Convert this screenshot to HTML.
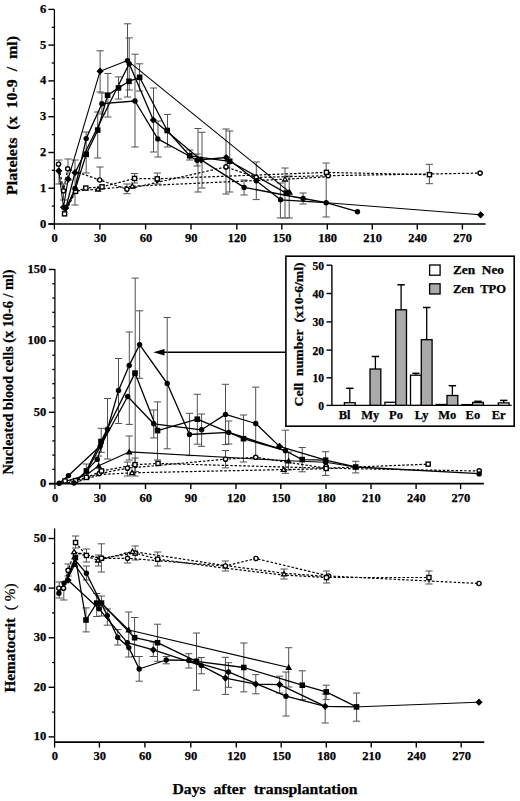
<!DOCTYPE html><html><head><meta charset="utf-8"><style>html,body{margin:0;padding:0;background:#fff;}svg{display:block;}</style></head><body><svg width="520" height="801" viewBox="0 0 520 801" font-family='"Liberation Serif", serif'>
<style>text{stroke:#000;stroke-width:0.25px;paint-order:stroke;}</style>
<rect width="520" height="801" fill="#fff"/>
<line x1="54.4" y1="9.4" x2="54.4" y2="229.5" stroke="#000" stroke-width="1.3" />
<line x1="48.4" y1="224.0" x2="485.6" y2="224.0" stroke="#000" stroke-width="1.6" />
<line x1="48.4" y1="224.0" x2="54.4" y2="224.0" stroke="#000" stroke-width="1.4" />
<line x1="48.4" y1="188.2" x2="54.4" y2="188.2" stroke="#000" stroke-width="1.4" />
<line x1="48.4" y1="152.5" x2="54.4" y2="152.5" stroke="#000" stroke-width="1.4" />
<line x1="48.4" y1="116.7" x2="54.4" y2="116.7" stroke="#000" stroke-width="1.4" />
<line x1="48.4" y1="80.9" x2="54.4" y2="80.9" stroke="#000" stroke-width="1.4" />
<line x1="48.4" y1="45.1" x2="54.4" y2="45.1" stroke="#000" stroke-width="1.4" />
<line x1="48.4" y1="9.4" x2="54.4" y2="9.4" stroke="#000" stroke-width="1.4" />
<line x1="51.8" y1="206.1" x2="54.4" y2="206.1" stroke="#000" stroke-width="1.3" />
<line x1="51.8" y1="170.3" x2="54.4" y2="170.3" stroke="#000" stroke-width="1.3" />
<line x1="51.8" y1="134.6" x2="54.4" y2="134.6" stroke="#000" stroke-width="1.3" />
<line x1="51.8" y1="98.8" x2="54.4" y2="98.8" stroke="#000" stroke-width="1.3" />
<line x1="51.8" y1="63.0" x2="54.4" y2="63.0" stroke="#000" stroke-width="1.3" />
<line x1="51.8" y1="27.3" x2="54.4" y2="27.3" stroke="#000" stroke-width="1.3" />
<text x="46.3" y="227.5" font-size="12.5" text-anchor="end" font-weight="bold" >0</text>
<text x="46.3" y="191.7" font-size="12.5" text-anchor="end" font-weight="bold" >1</text>
<text x="46.3" y="156.0" font-size="12.5" text-anchor="end" font-weight="bold" >2</text>
<text x="46.3" y="120.2" font-size="12.5" text-anchor="end" font-weight="bold" >3</text>
<text x="46.3" y="84.4" font-size="12.5" text-anchor="end" font-weight="bold" >4</text>
<text x="46.3" y="48.6" font-size="12.5" text-anchor="end" font-weight="bold" >5</text>
<text x="46.3" y="12.9" font-size="12.5" text-anchor="end" font-weight="bold" >6</text>
<text x="54.6" y="242.2" font-size="12.5" text-anchor="middle" font-weight="bold" >0</text>
<line x1="99.9" y1="224.0" x2="99.9" y2="229.5" stroke="#000" stroke-width="1.4" />
<text x="100.2" y="242.2" font-size="12.5" text-anchor="middle" font-weight="bold" >30</text>
<line x1="145.6" y1="224.0" x2="145.6" y2="229.5" stroke="#000" stroke-width="1.4" />
<text x="145.9" y="242.2" font-size="12.5" text-anchor="middle" font-weight="bold" >60</text>
<line x1="191.0" y1="224.0" x2="191.0" y2="229.5" stroke="#000" stroke-width="1.4" />
<text x="191.3" y="242.2" font-size="12.5" text-anchor="middle" font-weight="bold" >90</text>
<line x1="236.8" y1="224.0" x2="236.8" y2="229.5" stroke="#000" stroke-width="1.4" />
<text x="237.1" y="242.2" font-size="12.5" text-anchor="middle" font-weight="bold" >120</text>
<line x1="281.8" y1="224.0" x2="281.8" y2="229.5" stroke="#000" stroke-width="1.4" />
<text x="282.1" y="242.2" font-size="12.5" text-anchor="middle" font-weight="bold" >150</text>
<line x1="327.3" y1="224.0" x2="327.3" y2="229.5" stroke="#000" stroke-width="1.4" />
<text x="327.6" y="242.2" font-size="12.5" text-anchor="middle" font-weight="bold" >180</text>
<line x1="372.3" y1="224.0" x2="372.3" y2="229.5" stroke="#000" stroke-width="1.4" />
<text x="372.6" y="242.2" font-size="12.5" text-anchor="middle" font-weight="bold" >210</text>
<line x1="417.3" y1="224.0" x2="417.3" y2="229.5" stroke="#000" stroke-width="1.4" />
<text x="417.6" y="242.2" font-size="12.5" text-anchor="middle" font-weight="bold" >240</text>
<line x1="462.4" y1="224.0" x2="462.4" y2="229.5" stroke="#000" stroke-width="1.4" />
<text x="462.7" y="242.2" font-size="12.5" text-anchor="middle" font-weight="bold" >270</text>
<line x1="54.9" y1="269.0" x2="54.9" y2="489.1" stroke="#000" stroke-width="1.3" />
<line x1="48.9" y1="483.6" x2="483.9" y2="483.6" stroke="#000" stroke-width="1.6" />
<line x1="48.9" y1="483.7" x2="54.9" y2="483.7" stroke="#000" stroke-width="1.4" />
<line x1="48.9" y1="412.3" x2="54.9" y2="412.3" stroke="#000" stroke-width="1.4" />
<line x1="48.9" y1="340.9" x2="54.9" y2="340.9" stroke="#000" stroke-width="1.4" />
<line x1="48.9" y1="269.5" x2="54.9" y2="269.5" stroke="#000" stroke-width="1.4" />
<line x1="52.3" y1="469.4" x2="54.9" y2="469.4" stroke="#000" stroke-width="1.3" />
<line x1="52.3" y1="455.1" x2="54.9" y2="455.1" stroke="#000" stroke-width="1.3" />
<line x1="52.3" y1="440.9" x2="54.9" y2="440.9" stroke="#000" stroke-width="1.3" />
<line x1="52.3" y1="426.6" x2="54.9" y2="426.6" stroke="#000" stroke-width="1.3" />
<line x1="52.3" y1="398.0" x2="54.9" y2="398.0" stroke="#000" stroke-width="1.3" />
<line x1="52.3" y1="383.7" x2="54.9" y2="383.7" stroke="#000" stroke-width="1.3" />
<line x1="52.3" y1="369.5" x2="54.9" y2="369.5" stroke="#000" stroke-width="1.3" />
<line x1="52.3" y1="355.2" x2="54.9" y2="355.2" stroke="#000" stroke-width="1.3" />
<line x1="52.3" y1="326.6" x2="54.9" y2="326.6" stroke="#000" stroke-width="1.3" />
<line x1="52.3" y1="312.3" x2="54.9" y2="312.3" stroke="#000" stroke-width="1.3" />
<line x1="52.3" y1="298.1" x2="54.9" y2="298.1" stroke="#000" stroke-width="1.3" />
<line x1="52.3" y1="283.8" x2="54.9" y2="283.8" stroke="#000" stroke-width="1.3" />
<text x="46.3" y="487.2" font-size="12.5" text-anchor="end" font-weight="bold" >0</text>
<text x="46.3" y="415.8" font-size="12.5" text-anchor="end" font-weight="bold" >50</text>
<text x="46.3" y="344.4" font-size="12.5" text-anchor="end" font-weight="bold" >100</text>
<text x="46.3" y="273.0" font-size="12.5" text-anchor="end" font-weight="bold" >150</text>
<text x="55.2" y="501.5" font-size="12.5" text-anchor="middle" font-weight="bold" >0</text>
<line x1="99.8" y1="483.6" x2="99.8" y2="489.1" stroke="#000" stroke-width="1.4" />
<text x="100.1" y="501.5" font-size="12.5" text-anchor="middle" font-weight="bold" >30</text>
<line x1="145.5" y1="483.6" x2="145.5" y2="489.1" stroke="#000" stroke-width="1.4" />
<text x="145.8" y="501.5" font-size="12.5" text-anchor="middle" font-weight="bold" >60</text>
<line x1="190.8" y1="483.6" x2="190.8" y2="489.1" stroke="#000" stroke-width="1.4" />
<text x="191.1" y="501.5" font-size="12.5" text-anchor="middle" font-weight="bold" >90</text>
<line x1="236.0" y1="483.6" x2="236.0" y2="489.1" stroke="#000" stroke-width="1.4" />
<text x="236.3" y="501.5" font-size="12.5" text-anchor="middle" font-weight="bold" >120</text>
<line x1="280.8" y1="483.6" x2="280.8" y2="489.1" stroke="#000" stroke-width="1.4" />
<text x="281.1" y="501.5" font-size="12.5" text-anchor="middle" font-weight="bold" >150</text>
<line x1="326.0" y1="483.6" x2="326.0" y2="489.1" stroke="#000" stroke-width="1.4" />
<text x="326.3" y="501.5" font-size="12.5" text-anchor="middle" font-weight="bold" >180</text>
<line x1="371.0" y1="483.6" x2="371.0" y2="489.1" stroke="#000" stroke-width="1.4" />
<text x="371.3" y="501.5" font-size="12.5" text-anchor="middle" font-weight="bold" >210</text>
<line x1="416.1" y1="483.6" x2="416.1" y2="489.1" stroke="#000" stroke-width="1.4" />
<text x="416.4" y="501.5" font-size="12.5" text-anchor="middle" font-weight="bold" >240</text>
<line x1="460.6" y1="483.6" x2="460.6" y2="489.1" stroke="#000" stroke-width="1.4" />
<text x="460.9" y="501.5" font-size="12.5" text-anchor="middle" font-weight="bold" >270</text>
<line x1="54.6" y1="528.4" x2="54.6" y2="747.6" stroke="#000" stroke-width="1.3" />
<line x1="54.6" y1="742.1" x2="484.2" y2="742.1" stroke="#000" stroke-width="1.6" />
<line x1="48.6" y1="736.9" x2="54.6" y2="736.9" stroke="#000" stroke-width="1.4" />
<line x1="48.6" y1="687.3" x2="54.6" y2="687.3" stroke="#000" stroke-width="1.4" />
<line x1="48.6" y1="637.7" x2="54.6" y2="637.7" stroke="#000" stroke-width="1.4" />
<line x1="48.6" y1="588.1" x2="54.6" y2="588.1" stroke="#000" stroke-width="1.4" />
<line x1="48.6" y1="538.5" x2="54.6" y2="538.5" stroke="#000" stroke-width="1.4" />
<line x1="52.0" y1="712.1" x2="54.6" y2="712.1" stroke="#000" stroke-width="1.3" />
<line x1="52.0" y1="662.5" x2="54.6" y2="662.5" stroke="#000" stroke-width="1.3" />
<line x1="52.0" y1="612.9" x2="54.6" y2="612.9" stroke="#000" stroke-width="1.3" />
<line x1="52.0" y1="563.3" x2="54.6" y2="563.3" stroke="#000" stroke-width="1.3" />
<text x="46.3" y="740.4" font-size="12.5" text-anchor="end" font-weight="bold" >10</text>
<text x="46.3" y="690.8" font-size="12.5" text-anchor="end" font-weight="bold" >20</text>
<text x="46.3" y="641.2" font-size="12.5" text-anchor="end" font-weight="bold" >30</text>
<text x="46.3" y="591.6" font-size="12.5" text-anchor="end" font-weight="bold" >40</text>
<text x="46.3" y="542.0" font-size="12.5" text-anchor="end" font-weight="bold" >50</text>
<text x="54.9" y="760.3" font-size="12.5" text-anchor="middle" font-weight="bold" >0</text>
<line x1="99.4" y1="742.1" x2="99.4" y2="747.6" stroke="#000" stroke-width="1.4" />
<text x="99.7" y="760.3" font-size="12.5" text-anchor="middle" font-weight="bold" >30</text>
<line x1="144.9" y1="742.1" x2="144.9" y2="747.6" stroke="#000" stroke-width="1.4" />
<text x="145.2" y="760.3" font-size="12.5" text-anchor="middle" font-weight="bold" >60</text>
<line x1="190.8" y1="742.1" x2="190.8" y2="747.6" stroke="#000" stroke-width="1.4" />
<text x="191.1" y="760.3" font-size="12.5" text-anchor="middle" font-weight="bold" >90</text>
<line x1="236.3" y1="742.1" x2="236.3" y2="747.6" stroke="#000" stroke-width="1.4" />
<text x="236.6" y="760.3" font-size="12.5" text-anchor="middle" font-weight="bold" >120</text>
<line x1="281.2" y1="742.1" x2="281.2" y2="747.6" stroke="#000" stroke-width="1.4" />
<text x="281.5" y="760.3" font-size="12.5" text-anchor="middle" font-weight="bold" >150</text>
<line x1="326.3" y1="742.1" x2="326.3" y2="747.6" stroke="#000" stroke-width="1.4" />
<text x="326.6" y="760.3" font-size="12.5" text-anchor="middle" font-weight="bold" >180</text>
<line x1="371.2" y1="742.1" x2="371.2" y2="747.6" stroke="#000" stroke-width="1.4" />
<text x="371.5" y="760.3" font-size="12.5" text-anchor="middle" font-weight="bold" >210</text>
<line x1="416.3" y1="742.1" x2="416.3" y2="747.6" stroke="#000" stroke-width="1.4" />
<text x="416.6" y="760.3" font-size="12.5" text-anchor="middle" font-weight="bold" >240</text>
<line x1="461.2" y1="742.1" x2="461.2" y2="747.6" stroke="#000" stroke-width="1.4" />
<text x="461.5" y="760.3" font-size="12.5" text-anchor="middle" font-weight="bold" >270</text>
<text transform="translate(17.0,195.0) rotate(-90)" x="0" y="0" font-size="15" font-weight="bold" textLength="159.0" lengthAdjust="spacingAndGlyphs">Platelets&#160;&#160;(x&#160;&#160;10-9&#160;&#160;/&#160;&#160;ml)</text>
<text transform="translate(13.1,474.5) rotate(-90)" x="0" y="0" font-size="15" font-weight="bold" textLength="205.0" lengthAdjust="spacingAndGlyphs">Nucleated blood cells (x 10-6 / ml)</text>
<text transform="translate(15.0,692.6) rotate(-90)" x="0" y="0" font-size="14.5" font-weight="bold" textLength="109.1" lengthAdjust="spacingAndGlyphs">Hematocrit&#160;&#160;<tspan font-weight="normal">(&#160;%)</tspan></text>
<text x="172.5" y="793.7" font-size="15" font-weight="bold" textLength="185" lengthAdjust="spacingAndGlyphs">Days&#160;&#160;after&#160;&#160;transplantation</text>
<rect x="285.9" y="256.2" width="228.3" height="170.0" fill="#fff" stroke="#000" stroke-width="1.6"/>
<line x1="331.9" y1="265.0" x2="331.9" y2="405.3" stroke="#000" stroke-width="1.4" />
<line x1="331.9" y1="405.4" x2="511.7" y2="405.4" stroke="#000" stroke-width="1.4" />
<line x1="326.5" y1="405.4" x2="331.9" y2="405.4" stroke="#000" stroke-width="1.4" />
<text x="324.0" y="409.9" font-size="11.6" text-anchor="end" font-weight="bold" >0</text>
<line x1="326.5" y1="377.8" x2="331.9" y2="377.8" stroke="#000" stroke-width="1.4" />
<text x="324.0" y="382.3" font-size="11.6" text-anchor="end" font-weight="bold" >10</text>
<line x1="326.5" y1="350.1" x2="331.9" y2="350.1" stroke="#000" stroke-width="1.4" />
<text x="324.0" y="354.6" font-size="11.6" text-anchor="end" font-weight="bold" >20</text>
<line x1="326.5" y1="321.9" x2="331.9" y2="321.9" stroke="#000" stroke-width="1.4" />
<text x="324.0" y="326.4" font-size="11.6" text-anchor="end" font-weight="bold" >30</text>
<line x1="326.5" y1="293.5" x2="331.9" y2="293.5" stroke="#000" stroke-width="1.4" />
<text x="324.0" y="298.0" font-size="11.6" text-anchor="end" font-weight="bold" >40</text>
<line x1="326.5" y1="265.2" x2="331.9" y2="265.2" stroke="#000" stroke-width="1.4" />
<text x="324.0" y="269.7" font-size="11.6" text-anchor="end" font-weight="bold" >50</text>
<text transform="translate(303.2,406.5) rotate(-90)" x="0" y="0" font-size="13" font-weight="bold" textLength="144.2" lengthAdjust="spacingAndGlyphs">Cell&#160;&#160;number&#160;&#160;(x10-6/ml)</text>
<line x1="349.8" y1="388.3" x2="349.8" y2="402.7" stroke="#000" stroke-width="1.3" />
<line x1="346.1" y1="388.3" x2="353.5" y2="388.3" stroke="#000" stroke-width="1.5" />
<rect x="344.4" y="402.7" width="10.8" height="2.6" fill="#fff" stroke="#000" stroke-width="1.3"/>
<text x="344.7" y="418.9" font-size="12.5" text-anchor="middle" font-weight="bold" >Bl</text>
<line x1="375.4" y1="356.5" x2="375.4" y2="369.0" stroke="#000" stroke-width="1.3" />
<line x1="371.7" y1="356.5" x2="379.1" y2="356.5" stroke="#000" stroke-width="1.5" />
<rect x="370.0" y="369.0" width="10.8" height="36.3" fill="#aaaaaa" stroke="#000" stroke-width="1.3"/>
<text x="370.3" y="418.9" font-size="12.5" text-anchor="middle" font-weight="bold" >My</text>
<line x1="401.1" y1="284.8" x2="401.1" y2="309.8" stroke="#000" stroke-width="1.3" />
<line x1="397.4" y1="284.8" x2="404.8" y2="284.8" stroke="#000" stroke-width="1.5" />
<rect x="384.9" y="402.3" width="10.8" height="3.0" fill="#fff" stroke="#000" stroke-width="1.3"/>
<rect x="395.7" y="309.8" width="10.8" height="95.5" fill="#aaaaaa" stroke="#000" stroke-width="1.3"/>
<text x="396.0" y="418.9" font-size="12.5" text-anchor="middle" font-weight="bold" >Po</text>
<line x1="415.9" y1="373.3" x2="415.9" y2="375.2" stroke="#000" stroke-width="1.3" />
<line x1="412.4" y1="373.3" x2="419.4" y2="373.3" stroke="#000" stroke-width="1.5" />
<line x1="426.7" y1="307.5" x2="426.7" y2="339.7" stroke="#000" stroke-width="1.3" />
<line x1="423.0" y1="307.5" x2="430.4" y2="307.5" stroke="#000" stroke-width="1.5" />
<rect x="410.5" y="375.2" width="10.8" height="30.1" fill="#fff" stroke="#000" stroke-width="1.3"/>
<rect x="421.3" y="339.7" width="10.8" height="65.6" fill="#aaaaaa" stroke="#000" stroke-width="1.3"/>
<text x="421.6" y="418.9" font-size="12.5" text-anchor="middle" font-weight="bold" >Ly</text>
<line x1="452.4" y1="385.7" x2="452.4" y2="395.5" stroke="#000" stroke-width="1.3" />
<line x1="448.7" y1="385.7" x2="456.1" y2="385.7" stroke="#000" stroke-width="1.5" />
<rect x="436.2" y="404.5" width="10.8" height="0.8" fill="#fff" stroke="#000" stroke-width="1.3"/>
<rect x="447.0" y="395.5" width="10.8" height="9.8" fill="#aaaaaa" stroke="#000" stroke-width="1.3"/>
<text x="447.3" y="418.9" font-size="12.5" text-anchor="middle" font-weight="bold" >Mo</text>
<line x1="478.0" y1="401.3" x2="478.0" y2="402.4" stroke="#000" stroke-width="1.3" />
<line x1="474.3" y1="401.3" x2="481.7" y2="401.3" stroke="#000" stroke-width="1.5" />
<rect x="461.8" y="404.6" width="10.8" height="0.7" fill="#fff" stroke="#000" stroke-width="1.3"/>
<rect x="472.6" y="402.4" width="10.8" height="2.9" fill="#aaaaaa" stroke="#000" stroke-width="1.3"/>
<text x="472.9" y="418.9" font-size="12.5" text-anchor="middle" font-weight="bold" >Eo</text>
<line x1="503.7" y1="400.4" x2="503.7" y2="402.9" stroke="#000" stroke-width="1.3" />
<line x1="500.0" y1="400.4" x2="507.4" y2="400.4" stroke="#000" stroke-width="1.5" />
<rect x="498.3" y="402.9" width="10.8" height="2.4" fill="#fff" stroke="#000" stroke-width="1.3"/>
<text x="498.6" y="418.9" font-size="12.5" text-anchor="middle" font-weight="bold" >Er</text>
<rect x="429.6" y="265.0" width="10.5" height="10.2" fill="#fff" stroke="#000" stroke-width="1.3"/>
<rect x="429.6" y="283.8" width="10.5" height="10.2" fill="#aaaaaa" stroke="#000" stroke-width="1.3"/>
<text x="453" y="273.8" font-size="12.5" font-weight="bold" textLength="51" lengthAdjust="spacingAndGlyphs">Zen&#160;&#160;Neo</text>
<text x="453" y="292.6" font-size="12.5" font-weight="bold" textLength="53" lengthAdjust="spacingAndGlyphs">Zen&#160;&#160;TPO</text>
<line x1="164.0" y1="352.3" x2="285.9" y2="352.3" stroke="#000" stroke-width="1.5" />
<polygon points="153.3,352.3 164.5,349.0 164.5,355.6" fill="#000"/>
<line x1="127.5" y1="23.8" x2="127.5" y2="97.0" stroke="#505050" stroke-width="1.0"/>
<line x1="123.9" y1="23.8" x2="131.1" y2="23.8" stroke="#505050" stroke-width="1.0"/>
<line x1="123.9" y1="97.0" x2="131.1" y2="97.0" stroke="#505050" stroke-width="1.0"/>
<line x1="129.2" y1="37.9" x2="129.2" y2="90.0" stroke="#505050" stroke-width="1.0"/>
<line x1="125.6" y1="37.9" x2="132.8" y2="37.9" stroke="#505050" stroke-width="1.0"/>
<line x1="125.6" y1="90.0" x2="132.8" y2="90.0" stroke="#505050" stroke-width="1.0"/>
<line x1="100.1" y1="50.8" x2="100.1" y2="92.0" stroke="#505050" stroke-width="1.0"/>
<line x1="96.5" y1="50.8" x2="103.7" y2="50.8" stroke="#505050" stroke-width="1.0"/>
<line x1="96.5" y1="92.0" x2="103.7" y2="92.0" stroke="#505050" stroke-width="1.0"/>
<line x1="135.0" y1="54.2" x2="135.0" y2="147.0" stroke="#505050" stroke-width="1.0"/>
<line x1="131.4" y1="54.2" x2="138.6" y2="54.2" stroke="#505050" stroke-width="1.0"/>
<line x1="131.4" y1="147.0" x2="138.6" y2="147.0" stroke="#505050" stroke-width="1.0"/>
<line x1="139.6" y1="63.8" x2="139.6" y2="91.0" stroke="#505050" stroke-width="1.0"/>
<line x1="136.0" y1="63.8" x2="143.2" y2="63.8" stroke="#505050" stroke-width="1.0"/>
<line x1="136.0" y1="91.0" x2="143.2" y2="91.0" stroke="#505050" stroke-width="1.0"/>
<line x1="107.9" y1="73.5" x2="107.9" y2="117.0" stroke="#505050" stroke-width="1.0"/>
<line x1="104.3" y1="73.5" x2="111.5" y2="73.5" stroke="#505050" stroke-width="1.0"/>
<line x1="104.3" y1="117.0" x2="111.5" y2="117.0" stroke="#505050" stroke-width="1.0"/>
<line x1="118.5" y1="76.9" x2="118.5" y2="99.0" stroke="#505050" stroke-width="1.0"/>
<line x1="114.9" y1="76.9" x2="122.1" y2="76.9" stroke="#505050" stroke-width="1.0"/>
<line x1="114.9" y1="99.0" x2="122.1" y2="99.0" stroke="#505050" stroke-width="1.0"/>
<line x1="153.5" y1="88.0" x2="153.5" y2="152.0" stroke="#505050" stroke-width="1.0"/>
<line x1="149.9" y1="88.0" x2="157.1" y2="88.0" stroke="#505050" stroke-width="1.0"/>
<line x1="149.9" y1="152.0" x2="157.1" y2="152.0" stroke="#505050" stroke-width="1.0"/>
<line x1="158.0" y1="121.0" x2="158.0" y2="157.0" stroke="#505050" stroke-width="1.0"/>
<line x1="154.4" y1="121.0" x2="161.6" y2="121.0" stroke="#505050" stroke-width="1.0"/>
<line x1="154.4" y1="157.0" x2="161.6" y2="157.0" stroke="#505050" stroke-width="1.0"/>
<line x1="167.5" y1="114.4" x2="167.5" y2="147.0" stroke="#505050" stroke-width="1.0"/>
<line x1="163.9" y1="114.4" x2="171.1" y2="114.4" stroke="#505050" stroke-width="1.0"/>
<line x1="163.9" y1="147.0" x2="171.1" y2="147.0" stroke="#505050" stroke-width="1.0"/>
<line x1="198.0" y1="128.5" x2="198.0" y2="192.0" stroke="#505050" stroke-width="1.0"/>
<line x1="194.4" y1="128.5" x2="201.6" y2="128.5" stroke="#505050" stroke-width="1.0"/>
<line x1="194.4" y1="192.0" x2="201.6" y2="192.0" stroke="#505050" stroke-width="1.0"/>
<line x1="202.0" y1="132.3" x2="202.0" y2="188.0" stroke="#505050" stroke-width="1.0"/>
<line x1="198.4" y1="132.3" x2="205.6" y2="132.3" stroke="#505050" stroke-width="1.0"/>
<line x1="198.4" y1="188.0" x2="205.6" y2="188.0" stroke="#505050" stroke-width="1.0"/>
<line x1="226.0" y1="129.0" x2="226.0" y2="194.0" stroke="#505050" stroke-width="1.0"/>
<line x1="222.4" y1="129.0" x2="229.6" y2="129.0" stroke="#505050" stroke-width="1.0"/>
<line x1="222.4" y1="194.0" x2="229.6" y2="194.0" stroke="#505050" stroke-width="1.0"/>
<line x1="229.7" y1="131.0" x2="229.7" y2="192.0" stroke="#505050" stroke-width="1.0"/>
<line x1="226.1" y1="131.0" x2="233.3" y2="131.0" stroke="#505050" stroke-width="1.0"/>
<line x1="226.1" y1="192.0" x2="233.3" y2="192.0" stroke="#505050" stroke-width="1.0"/>
<line x1="256.3" y1="162.0" x2="256.3" y2="199.6" stroke="#505050" stroke-width="1.0"/>
<line x1="252.7" y1="162.0" x2="259.9" y2="162.0" stroke="#505050" stroke-width="1.0"/>
<line x1="252.7" y1="199.6" x2="259.9" y2="199.6" stroke="#505050" stroke-width="1.0"/>
<line x1="285.0" y1="168.0" x2="285.0" y2="218.0" stroke="#505050" stroke-width="1.0"/>
<line x1="281.4" y1="168.0" x2="288.6" y2="168.0" stroke="#505050" stroke-width="1.0"/>
<line x1="281.4" y1="218.0" x2="288.6" y2="218.0" stroke="#505050" stroke-width="1.0"/>
<line x1="289.2" y1="176.0" x2="289.2" y2="218.0" stroke="#505050" stroke-width="1.0"/>
<line x1="285.6" y1="176.0" x2="292.8" y2="176.0" stroke="#505050" stroke-width="1.0"/>
<line x1="285.6" y1="218.0" x2="292.8" y2="218.0" stroke="#505050" stroke-width="1.0"/>
<line x1="280.4" y1="183.0" x2="280.4" y2="218.0" stroke="#505050" stroke-width="1.0"/>
<line x1="276.8" y1="183.0" x2="284.0" y2="183.0" stroke="#505050" stroke-width="1.0"/>
<line x1="276.8" y1="218.0" x2="284.0" y2="218.0" stroke="#505050" stroke-width="1.0"/>
<line x1="303.1" y1="193.0" x2="303.1" y2="204.0" stroke="#505050" stroke-width="1.0"/>
<line x1="299.5" y1="193.0" x2="306.7" y2="193.0" stroke="#505050" stroke-width="1.0"/>
<line x1="299.5" y1="204.0" x2="306.7" y2="204.0" stroke="#505050" stroke-width="1.0"/>
<line x1="326.2" y1="163.0" x2="326.2" y2="217.0" stroke="#505050" stroke-width="1.0"/>
<line x1="322.6" y1="163.0" x2="329.8" y2="163.0" stroke="#505050" stroke-width="1.0"/>
<line x1="322.6" y1="217.0" x2="329.8" y2="217.0" stroke="#505050" stroke-width="1.0"/>
<line x1="97.7" y1="112.0" x2="97.7" y2="158.0" stroke="#505050" stroke-width="1.0"/>
<line x1="94.1" y1="112.0" x2="101.3" y2="112.0" stroke="#505050" stroke-width="1.0"/>
<line x1="94.1" y1="158.0" x2="101.3" y2="158.0" stroke="#505050" stroke-width="1.0"/>
<line x1="86.2" y1="132.0" x2="86.2" y2="173.0" stroke="#505050" stroke-width="1.0"/>
<line x1="82.6" y1="132.0" x2="89.8" y2="132.0" stroke="#505050" stroke-width="1.0"/>
<line x1="82.6" y1="173.0" x2="89.8" y2="173.0" stroke="#505050" stroke-width="1.0"/>
<line x1="101.9" y1="93.0" x2="101.9" y2="114.0" stroke="#505050" stroke-width="1.0"/>
<line x1="98.3" y1="93.0" x2="105.5" y2="93.0" stroke="#505050" stroke-width="1.0"/>
<line x1="98.3" y1="114.0" x2="105.5" y2="114.0" stroke="#505050" stroke-width="1.0"/>
<line x1="75.0" y1="160.0" x2="75.0" y2="205.0" stroke="#505050" stroke-width="1.0"/>
<line x1="71.4" y1="160.0" x2="78.6" y2="160.0" stroke="#505050" stroke-width="1.0"/>
<line x1="71.4" y1="205.0" x2="78.6" y2="205.0" stroke="#505050" stroke-width="1.0"/>
<line x1="68.0" y1="159.0" x2="68.0" y2="180.0" stroke="#505050" stroke-width="1.0"/>
<line x1="64.4" y1="159.0" x2="71.6" y2="159.0" stroke="#505050" stroke-width="1.0"/>
<line x1="64.4" y1="180.0" x2="71.6" y2="180.0" stroke="#505050" stroke-width="1.0"/>
<line x1="100.0" y1="167.0" x2="100.0" y2="180.0" stroke="#505050" stroke-width="1.0"/>
<line x1="96.4" y1="167.0" x2="103.6" y2="167.0" stroke="#505050" stroke-width="1.0"/>
<line x1="96.4" y1="180.0" x2="103.6" y2="180.0" stroke="#505050" stroke-width="1.0"/>
<line x1="134.6" y1="173.5" x2="134.6" y2="183.0" stroke="#505050" stroke-width="1.0"/>
<line x1="131.0" y1="173.5" x2="138.2" y2="173.5" stroke="#505050" stroke-width="1.0"/>
<line x1="131.0" y1="183.0" x2="138.2" y2="183.0" stroke="#505050" stroke-width="1.0"/>
<line x1="126.9" y1="184.0" x2="126.9" y2="193.7" stroke="#505050" stroke-width="1.0"/>
<line x1="123.3" y1="184.0" x2="130.5" y2="184.0" stroke="#505050" stroke-width="1.0"/>
<line x1="123.3" y1="193.7" x2="130.5" y2="193.7" stroke="#505050" stroke-width="1.0"/>
<line x1="157.3" y1="173.0" x2="157.3" y2="184.0" stroke="#505050" stroke-width="1.0"/>
<line x1="153.7" y1="173.0" x2="160.9" y2="173.0" stroke="#505050" stroke-width="1.0"/>
<line x1="153.7" y1="184.0" x2="160.9" y2="184.0" stroke="#505050" stroke-width="1.0"/>
<line x1="429.4" y1="164.3" x2="429.4" y2="183.7" stroke="#505050" stroke-width="1.0"/>
<line x1="425.8" y1="164.3" x2="433.0" y2="164.3" stroke="#505050" stroke-width="1.0"/>
<line x1="425.8" y1="183.7" x2="433.0" y2="183.7" stroke="#505050" stroke-width="1.0"/>
<line x1="59.0" y1="160.0" x2="59.0" y2="184.0" stroke="#505050" stroke-width="1.0"/>
<line x1="55.4" y1="160.0" x2="62.6" y2="160.0" stroke="#505050" stroke-width="1.0"/>
<line x1="55.4" y1="184.0" x2="62.6" y2="184.0" stroke="#505050" stroke-width="1.0"/>
<line x1="63.5" y1="184.0" x2="63.5" y2="200.0" stroke="#505050" stroke-width="1.0"/>
<line x1="59.9" y1="184.0" x2="67.1" y2="184.0" stroke="#505050" stroke-width="1.0"/>
<line x1="59.9" y1="200.0" x2="67.1" y2="200.0" stroke="#505050" stroke-width="1.0"/>
<line x1="244.1" y1="180.0" x2="244.1" y2="195.0" stroke="#505050" stroke-width="1.0"/>
<line x1="240.5" y1="180.0" x2="247.7" y2="180.0" stroke="#505050" stroke-width="1.0"/>
<line x1="240.5" y1="195.0" x2="247.7" y2="195.0" stroke="#505050" stroke-width="1.0"/>
<line x1="189.7" y1="150.0" x2="189.7" y2="160.0" stroke="#505050" stroke-width="1.0"/>
<line x1="186.1" y1="150.0" x2="193.3" y2="150.0" stroke="#505050" stroke-width="1.0"/>
<line x1="186.1" y1="160.0" x2="193.3" y2="160.0" stroke="#505050" stroke-width="1.0"/>
<line x1="197.0" y1="154.0" x2="197.0" y2="166.0" stroke="#505050" stroke-width="1.0"/>
<line x1="193.4" y1="154.0" x2="200.6" y2="154.0" stroke="#505050" stroke-width="1.0"/>
<line x1="193.4" y1="166.0" x2="200.6" y2="166.0" stroke="#505050" stroke-width="1.0"/>
<polyline points="58.5,164.2 63.5,190.8 67.7,168.8 99.7,180.0 126.9,189.2 226.0,166.9 256.2,177.4 328.2,175.7 480.1,173.1" fill="none" stroke="#000" stroke-width="1.2" stroke-linejoin="round" stroke-dasharray="2.5,1.8"/>
<polyline points="64.6,213.8 75.6,191.4 85.8,188.1 102.0,186.9 134.6,178.5 157.3,178.8 326.5,172.4 429.5,174.7" fill="none" stroke="#000" stroke-width="1.2" stroke-linejoin="round" stroke-dasharray="2.5,1.8"/>
<polyline points="65.0,212.0 75.0,191.0 98.0,189.2 132.3,186.2 285.0,179.2 328.1,176.7" fill="none" stroke="#000" stroke-width="1.2" stroke-linejoin="round" stroke-dasharray="2.5,1.8"/>
<polyline points="58.8,170.8 63.5,207.3 68.1,179.2 100.1,71.2 127.5,60.6 289.6,192.1" fill="none" stroke="#000" stroke-width="1.1" stroke-linejoin="round"/>
<polyline points="65.8,208.0 75.0,172.7 129.2,63.8 153.3,120.1 201.1,159.9 244.1,187.4 303.1,198.5 326.2,202.7" fill="none" stroke="#000" stroke-width="1.3" stroke-linejoin="round"/>
<polyline points="326.2,202.7 480.6,214.8" fill="none" stroke="#000" stroke-width="1.0" stroke-linejoin="round"/>
<polyline points="64.6,211.0 75.0,190.0 86.2,154.3 97.7,130.1 107.6,95.2 118.5,87.9 129.0,81.3 139.6,77.3 167.2,130.5 189.7,155.8 229.7,161.3 286.3,193.1" fill="none" stroke="#000" stroke-width="1.3" stroke-linejoin="round"/>
<polyline points="65.8,210.0 75.0,188.5 86.2,138.6 101.9,103.7 135.0,101.0 157.8,138.9 197.0,160.2 226.2,157.5 256.3,180.8 280.6,199.8 326.2,202.7 357.5,211.7" fill="none" stroke="#000" stroke-width="1.3" stroke-linejoin="round"/>
<circle cx="58.5" cy="164.2" r="2.1" fill="#fff" stroke="#000" stroke-width="1.4"/>
<circle cx="63.5" cy="190.8" r="2.1" fill="#fff" stroke="#000" stroke-width="1.4"/>
<circle cx="67.7" cy="168.8" r="2.1" fill="#fff" stroke="#000" stroke-width="1.4"/>
<circle cx="99.7" cy="180.0" r="2.1" fill="#fff" stroke="#000" stroke-width="1.4"/>
<circle cx="126.9" cy="189.2" r="2.1" fill="#fff" stroke="#000" stroke-width="1.4"/>
<circle cx="226.0" cy="166.9" r="2.1" fill="#fff" stroke="#000" stroke-width="1.4"/>
<circle cx="256.2" cy="177.4" r="2.1" fill="#fff" stroke="#000" stroke-width="1.4"/>
<circle cx="328.2" cy="175.7" r="2.1" fill="#fff" stroke="#000" stroke-width="1.4"/>
<circle cx="480.1" cy="173.1" r="2.1" fill="#fff" stroke="#000" stroke-width="1.4"/>
<circle cx="157.5" cy="179.5" r="2.1" fill="#fff" stroke="#000" stroke-width="1.4"/>
<rect x="62.5" y="211.8" width="4.1" height="4.1" fill="#fff" stroke="#000" stroke-width="1.4"/>
<rect x="73.5" y="189.3" width="4.1" height="4.1" fill="#fff" stroke="#000" stroke-width="1.4"/>
<rect x="83.8" y="186.0" width="4.1" height="4.1" fill="#fff" stroke="#000" stroke-width="1.4"/>
<rect x="100.0" y="184.8" width="4.1" height="4.1" fill="#fff" stroke="#000" stroke-width="1.4"/>
<rect x="132.5" y="176.4" width="4.1" height="4.1" fill="#fff" stroke="#000" stroke-width="1.4"/>
<rect x="155.2" y="176.8" width="4.1" height="4.1" fill="#fff" stroke="#000" stroke-width="1.4"/>
<rect x="324.4" y="170.3" width="4.1" height="4.1" fill="#fff" stroke="#000" stroke-width="1.4"/>
<rect x="427.4" y="172.6" width="4.1" height="4.1" fill="#fff" stroke="#000" stroke-width="1.4"/>
<polygon points="98.0,186.8 100.4,191.0 95.6,191.0" fill="#fff" stroke="#000" stroke-width="1.3"/>
<polygon points="132.3,183.8 134.7,188.0 129.9,188.0" fill="#fff" stroke="#000" stroke-width="1.3"/>
<polygon points="285.0,176.8 287.4,181.0 282.6,181.0" fill="#fff" stroke="#000" stroke-width="1.3"/>
<polygon points="58.8,167.2 62.4,170.8 58.8,174.4 55.2,170.8" fill="#000"/>
<polygon points="63.5,203.7 67.1,207.3 63.5,210.9 59.9,207.3" fill="#000"/>
<polygon points="68.1,175.6 71.7,179.2 68.1,182.8 64.5,179.2" fill="#000"/>
<polygon points="100.1,67.6 103.7,71.2 100.1,74.8 96.5,71.2" fill="#000"/>
<polygon points="75.0,169.1 78.6,172.7 75.0,176.3 71.4,172.7" fill="#000"/>
<polygon points="153.3,116.5 156.9,120.1 153.3,123.7 149.7,120.1" fill="#000"/>
<polygon points="201.1,156.3 204.7,159.9 201.1,163.5 197.5,159.9" fill="#000"/>
<polygon points="226.2,153.9 229.8,157.5 226.2,161.1 222.6,157.5" fill="#000"/>
<polygon points="480.6,211.2 484.2,214.8 480.6,218.4 477.0,214.8" fill="#000"/>
<polygon points="65.8,204.4 69.4,208.0 65.8,211.6 62.2,208.0" fill="#000"/>
<rect x="83.4" y="151.5" width="5.6" height="5.6" fill="#000"/>
<rect x="94.9" y="127.3" width="5.6" height="5.6" fill="#000"/>
<rect x="104.8" y="92.4" width="5.6" height="5.6" fill="#000"/>
<rect x="115.7" y="85.1" width="5.6" height="5.6" fill="#000"/>
<rect x="126.2" y="78.5" width="5.6" height="5.6" fill="#000"/>
<rect x="136.8" y="74.5" width="5.6" height="5.6" fill="#000"/>
<rect x="164.4" y="127.7" width="5.6" height="5.6" fill="#000"/>
<rect x="186.9" y="153.0" width="5.6" height="5.6" fill="#000"/>
<rect x="226.9" y="158.5" width="5.6" height="5.6" fill="#000"/>
<rect x="283.5" y="190.3" width="5.6" height="5.6" fill="#000"/>
<circle cx="127.5" cy="60.6" r="2.7" fill="#000"/>
<circle cx="129.2" cy="63.8" r="2.7" fill="#000"/>
<circle cx="75.0" cy="188.5" r="2.7" fill="#000"/>
<circle cx="86.2" cy="138.6" r="2.7" fill="#000"/>
<circle cx="101.9" cy="103.7" r="2.7" fill="#000"/>
<circle cx="135.0" cy="101.0" r="2.7" fill="#000"/>
<circle cx="157.8" cy="138.9" r="2.7" fill="#000"/>
<circle cx="197.0" cy="160.2" r="2.7" fill="#000"/>
<circle cx="244.1" cy="187.4" r="2.7" fill="#000"/>
<circle cx="256.3" cy="180.8" r="2.7" fill="#000"/>
<circle cx="280.6" cy="199.8" r="2.7" fill="#000"/>
<circle cx="303.1" cy="198.5" r="2.7" fill="#000"/>
<circle cx="326.2" cy="202.7" r="2.7" fill="#000"/>
<circle cx="357.5" cy="211.7" r="2.7" fill="#000"/>
<polygon points="289.6,188.7 293.0,194.7 286.2,194.7" fill="#000"/>
<line x1="107.5" y1="398.5" x2="107.5" y2="459.0" stroke="#505050" stroke-width="1.0"/>
<line x1="103.9" y1="398.5" x2="111.1" y2="398.5" stroke="#505050" stroke-width="1.0"/>
<line x1="103.9" y1="459.0" x2="111.1" y2="459.0" stroke="#505050" stroke-width="1.0"/>
<line x1="118.5" y1="358.5" x2="118.5" y2="423.5" stroke="#505050" stroke-width="1.0"/>
<line x1="114.9" y1="358.5" x2="122.1" y2="358.5" stroke="#505050" stroke-width="1.0"/>
<line x1="114.9" y1="423.5" x2="122.1" y2="423.5" stroke="#505050" stroke-width="1.0"/>
<line x1="129.3" y1="332.0" x2="129.3" y2="424.4" stroke="#505050" stroke-width="1.0"/>
<line x1="125.7" y1="332.0" x2="132.9" y2="332.0" stroke="#505050" stroke-width="1.0"/>
<line x1="125.7" y1="424.4" x2="132.9" y2="424.4" stroke="#505050" stroke-width="1.0"/>
<line x1="129.2" y1="436.0" x2="129.2" y2="460.0" stroke="#505050" stroke-width="1.0"/>
<line x1="125.6" y1="436.0" x2="132.8" y2="436.0" stroke="#505050" stroke-width="1.0"/>
<line x1="125.6" y1="460.0" x2="132.8" y2="460.0" stroke="#505050" stroke-width="1.0"/>
<line x1="135.2" y1="278.1" x2="135.2" y2="471.5" stroke="#505050" stroke-width="1.0"/>
<line x1="131.6" y1="278.1" x2="138.8" y2="278.1" stroke="#505050" stroke-width="1.0"/>
<line x1="131.6" y1="471.5" x2="138.8" y2="471.5" stroke="#505050" stroke-width="1.0"/>
<line x1="139.6" y1="310.8" x2="139.6" y2="378.3" stroke="#505050" stroke-width="1.0"/>
<line x1="136.0" y1="310.8" x2="143.2" y2="310.8" stroke="#505050" stroke-width="1.0"/>
<line x1="136.0" y1="378.3" x2="143.2" y2="378.3" stroke="#505050" stroke-width="1.0"/>
<line x1="153.7" y1="410.0" x2="153.7" y2="437.9" stroke="#505050" stroke-width="1.0"/>
<line x1="150.1" y1="410.0" x2="157.3" y2="410.0" stroke="#505050" stroke-width="1.0"/>
<line x1="150.1" y1="437.9" x2="157.3" y2="437.9" stroke="#505050" stroke-width="1.0"/>
<line x1="157.5" y1="401.9" x2="157.5" y2="460.0" stroke="#505050" stroke-width="1.0"/>
<line x1="153.9" y1="401.9" x2="161.1" y2="401.9" stroke="#505050" stroke-width="1.0"/>
<line x1="153.9" y1="460.0" x2="161.1" y2="460.0" stroke="#505050" stroke-width="1.0"/>
<line x1="167.2" y1="317.5" x2="167.2" y2="448.8" stroke="#505050" stroke-width="1.0"/>
<line x1="163.6" y1="317.5" x2="170.8" y2="317.5" stroke="#505050" stroke-width="1.0"/>
<line x1="163.6" y1="448.8" x2="170.8" y2="448.8" stroke="#505050" stroke-width="1.0"/>
<line x1="189.5" y1="413.3" x2="189.5" y2="455.6" stroke="#505050" stroke-width="1.0"/>
<line x1="185.9" y1="413.3" x2="193.1" y2="413.3" stroke="#505050" stroke-width="1.0"/>
<line x1="185.9" y1="455.6" x2="193.1" y2="455.6" stroke="#505050" stroke-width="1.0"/>
<line x1="197.3" y1="394.3" x2="197.3" y2="444.2" stroke="#505050" stroke-width="1.0"/>
<line x1="193.7" y1="394.3" x2="200.9" y2="394.3" stroke="#505050" stroke-width="1.0"/>
<line x1="193.7" y1="444.2" x2="200.9" y2="444.2" stroke="#505050" stroke-width="1.0"/>
<line x1="201.6" y1="414.0" x2="201.6" y2="446.3" stroke="#505050" stroke-width="1.0"/>
<line x1="198.0" y1="414.0" x2="205.2" y2="414.0" stroke="#505050" stroke-width="1.0"/>
<line x1="198.0" y1="446.3" x2="205.2" y2="446.3" stroke="#505050" stroke-width="1.0"/>
<line x1="225.5" y1="384.3" x2="225.5" y2="444.6" stroke="#505050" stroke-width="1.0"/>
<line x1="221.9" y1="384.3" x2="229.1" y2="384.3" stroke="#505050" stroke-width="1.0"/>
<line x1="221.9" y1="444.6" x2="229.1" y2="444.6" stroke="#505050" stroke-width="1.0"/>
<line x1="225.5" y1="450.5" x2="225.5" y2="467.9" stroke="#505050" stroke-width="1.0"/>
<line x1="221.9" y1="450.5" x2="229.1" y2="450.5" stroke="#505050" stroke-width="1.0"/>
<line x1="221.9" y1="467.9" x2="229.1" y2="467.9" stroke="#505050" stroke-width="1.0"/>
<line x1="228.7" y1="421.0" x2="228.7" y2="444.0" stroke="#505050" stroke-width="1.0"/>
<line x1="225.1" y1="421.0" x2="232.3" y2="421.0" stroke="#505050" stroke-width="1.0"/>
<line x1="225.1" y1="444.0" x2="232.3" y2="444.0" stroke="#505050" stroke-width="1.0"/>
<line x1="243.5" y1="415.0" x2="243.5" y2="462.0" stroke="#505050" stroke-width="1.0"/>
<line x1="239.9" y1="415.0" x2="247.1" y2="415.0" stroke="#505050" stroke-width="1.0"/>
<line x1="239.9" y1="462.0" x2="247.1" y2="462.0" stroke="#505050" stroke-width="1.0"/>
<line x1="255.7" y1="387.1" x2="255.7" y2="457.3" stroke="#505050" stroke-width="1.0"/>
<line x1="252.1" y1="387.1" x2="259.3" y2="387.1" stroke="#505050" stroke-width="1.0"/>
<line x1="252.1" y1="457.3" x2="259.3" y2="457.3" stroke="#505050" stroke-width="1.0"/>
<line x1="285.4" y1="430.2" x2="285.4" y2="473.3" stroke="#505050" stroke-width="1.0"/>
<line x1="281.8" y1="430.2" x2="289.0" y2="430.2" stroke="#505050" stroke-width="1.0"/>
<line x1="281.8" y1="473.3" x2="289.0" y2="473.3" stroke="#505050" stroke-width="1.0"/>
<line x1="302.2" y1="447.5" x2="302.2" y2="471.8" stroke="#505050" stroke-width="1.0"/>
<line x1="298.6" y1="447.5" x2="305.8" y2="447.5" stroke="#505050" stroke-width="1.0"/>
<line x1="298.6" y1="471.8" x2="305.8" y2="471.8" stroke="#505050" stroke-width="1.0"/>
<line x1="325.6" y1="451.7" x2="325.6" y2="475.4" stroke="#505050" stroke-width="1.0"/>
<line x1="322.0" y1="451.7" x2="329.2" y2="451.7" stroke="#505050" stroke-width="1.0"/>
<line x1="322.0" y1="475.4" x2="329.2" y2="475.4" stroke="#505050" stroke-width="1.0"/>
<line x1="355.7" y1="461.3" x2="355.7" y2="472.9" stroke="#505050" stroke-width="1.0"/>
<line x1="352.1" y1="461.3" x2="359.3" y2="461.3" stroke="#505050" stroke-width="1.0"/>
<line x1="352.1" y1="472.9" x2="359.3" y2="472.9" stroke="#505050" stroke-width="1.0"/>
<line x1="101.2" y1="428.3" x2="101.2" y2="452.3" stroke="#505050" stroke-width="1.0"/>
<line x1="97.6" y1="428.3" x2="104.8" y2="428.3" stroke="#505050" stroke-width="1.0"/>
<line x1="97.6" y1="452.3" x2="104.8" y2="452.3" stroke="#505050" stroke-width="1.0"/>
<line x1="98.7" y1="456.0" x2="98.7" y2="474.0" stroke="#505050" stroke-width="1.0"/>
<line x1="95.1" y1="456.0" x2="102.3" y2="456.0" stroke="#505050" stroke-width="1.0"/>
<line x1="95.1" y1="474.0" x2="102.3" y2="474.0" stroke="#505050" stroke-width="1.0"/>
<line x1="86.4" y1="464.0" x2="86.4" y2="478.0" stroke="#505050" stroke-width="1.0"/>
<line x1="82.8" y1="464.0" x2="90.0" y2="464.0" stroke="#505050" stroke-width="1.0"/>
<line x1="82.8" y1="478.0" x2="90.0" y2="478.0" stroke="#505050" stroke-width="1.0"/>
<line x1="127.4" y1="462.0" x2="127.4" y2="476.0" stroke="#505050" stroke-width="1.0"/>
<line x1="123.8" y1="462.0" x2="131.0" y2="462.0" stroke="#505050" stroke-width="1.0"/>
<line x1="123.8" y1="476.0" x2="131.0" y2="476.0" stroke="#505050" stroke-width="1.0"/>
<line x1="135.0" y1="458.0" x2="135.0" y2="476.0" stroke="#505050" stroke-width="1.0"/>
<line x1="131.4" y1="458.0" x2="138.6" y2="458.0" stroke="#505050" stroke-width="1.0"/>
<line x1="131.4" y1="476.0" x2="138.6" y2="476.0" stroke="#505050" stroke-width="1.0"/>
<line x1="288.6" y1="452.0" x2="288.6" y2="470.0" stroke="#505050" stroke-width="1.0"/>
<line x1="285.0" y1="452.0" x2="292.2" y2="452.0" stroke="#505050" stroke-width="1.0"/>
<line x1="285.0" y1="470.0" x2="292.2" y2="470.0" stroke="#505050" stroke-width="1.0"/>
<polyline points="65.0,481.0 75.6,480.7 86.4,477.5 101.6,471.0 135.0,464.7 158.1,463.5 326.1,468.2 428.1,464.2" fill="none" stroke="#000" stroke-width="1.2" stroke-linejoin="round" stroke-dasharray="2.5,1.8"/>
<polyline points="59.0,483.0 75.6,482.0 99.3,473.6 127.4,468.2 225.5,459.2 255.7,457.3 326.1,468.2 479.2,471.0" fill="none" stroke="#000" stroke-width="1.2" stroke-linejoin="round" stroke-dasharray="2.5,1.8"/>
<polyline points="75.0,482.5 101.0,474.5 132.0,472.8 283.7,469.6 326.1,468.8" fill="none" stroke="#000" stroke-width="1.2" stroke-linejoin="round" stroke-dasharray="2.5,1.8"/>
<polyline points="59.2,483.3 68.5,475.6 100.2,446.1 107.5,429.2 118.5,390.4 129.2,365.4 139.6,344.6 167.2,383.5 189.5,434.5 228.7,432.4 285.4,450.7" fill="none" stroke="#000" stroke-width="1.3" stroke-linejoin="round"/>
<polyline points="75.6,481.0 86.4,470.9 101.0,441.5 135.0,373.1 157.5,430.6 197.3,419.2 243.5,438.7 285.4,450.7 302.2,459.6 325.6,460.2 355.7,467.0 479.2,473.7" fill="none" stroke="#000" stroke-width="1.3" stroke-linejoin="round"/>
<polyline points="74.0,483.0 86.4,472.0 100.4,446.2 127.7,396.5 153.7,423.8 201.6,429.8 225.5,414.4 255.7,423.5 279.5,446.4 325.6,460.2" fill="none" stroke="#000" stroke-width="1.3" stroke-linejoin="round"/>
<polyline points="59.0,483.3 86.4,475.0 98.7,465.8 129.2,451.9 288.6,460.8 325.6,462.3 355.7,467.0" fill="none" stroke="#000" stroke-width="1.1" stroke-linejoin="round"/>
<polyline points="86.4,470.9 97.2,459.4 107.5,429.2" fill="none" stroke="#000" stroke-width="1.3" stroke-linejoin="round"/>
<circle cx="99.3" cy="473.6" r="2.1" fill="#fff" stroke="#000" stroke-width="1.4"/>
<circle cx="127.4" cy="468.2" r="2.1" fill="#fff" stroke="#000" stroke-width="1.4"/>
<circle cx="225.5" cy="459.2" r="2.1" fill="#fff" stroke="#000" stroke-width="1.4"/>
<circle cx="255.7" cy="457.3" r="2.1" fill="#fff" stroke="#000" stroke-width="1.4"/>
<circle cx="326.1" cy="466.5" r="2.1" fill="#fff" stroke="#000" stroke-width="1.4"/>
<circle cx="479.2" cy="470.8" r="2.1" fill="#fff" stroke="#000" stroke-width="1.4"/>
<rect x="63.0" y="478.9" width="4.1" height="4.1" fill="#fff" stroke="#000" stroke-width="1.4"/>
<rect x="73.5" y="478.6" width="4.1" height="4.1" fill="#fff" stroke="#000" stroke-width="1.4"/>
<rect x="84.4" y="475.4" width="4.1" height="4.1" fill="#fff" stroke="#000" stroke-width="1.4"/>
<rect x="99.5" y="468.9" width="4.1" height="4.1" fill="#fff" stroke="#000" stroke-width="1.4"/>
<rect x="132.9" y="462.6" width="4.1" height="4.1" fill="#fff" stroke="#000" stroke-width="1.4"/>
<rect x="156.0" y="461.4" width="4.1" height="4.1" fill="#fff" stroke="#000" stroke-width="1.4"/>
<rect x="426.1" y="462.1" width="4.1" height="4.1" fill="#fff" stroke="#000" stroke-width="1.4"/>
<rect x="324.1" y="466.4" width="4.1" height="4.1" fill="#fff" stroke="#000" stroke-width="1.4"/>
<polygon points="132.0,470.4 134.4,474.6 129.6,474.6" fill="#fff" stroke="#000" stroke-width="1.3"/>
<polygon points="283.7,467.2 286.1,471.4 281.3,471.4" fill="#fff" stroke="#000" stroke-width="1.3"/>
<circle cx="59.2" cy="483.3" r="2.7" fill="#000"/>
<circle cx="68.5" cy="475.6" r="2.7" fill="#000"/>
<circle cx="97.2" cy="459.4" r="2.7" fill="#000"/>
<circle cx="100.2" cy="446.1" r="2.7" fill="#000"/>
<circle cx="107.5" cy="429.2" r="2.7" fill="#000"/>
<circle cx="118.5" cy="390.4" r="2.7" fill="#000"/>
<circle cx="129.2" cy="365.4" r="2.7" fill="#000"/>
<circle cx="139.6" cy="344.6" r="2.7" fill="#000"/>
<circle cx="167.2" cy="383.5" r="2.7" fill="#000"/>
<circle cx="189.5" cy="434.5" r="2.7" fill="#000"/>
<circle cx="228.7" cy="432.4" r="2.7" fill="#000"/>
<circle cx="285.4" cy="450.7" r="2.7" fill="#000"/>
<circle cx="325.6" cy="462.3" r="2.7" fill="#000"/>
<circle cx="479.2" cy="473.9" r="2.7" fill="#000"/>
<circle cx="74.0" cy="483.0" r="2.7" fill="#000"/>
<rect x="83.6" y="468.1" width="5.6" height="5.6" fill="#000"/>
<rect x="98.2" y="438.7" width="5.6" height="5.6" fill="#000"/>
<rect x="132.2" y="370.3" width="5.6" height="5.6" fill="#000"/>
<rect x="154.7" y="427.8" width="5.6" height="5.6" fill="#000"/>
<rect x="194.5" y="416.4" width="5.6" height="5.6" fill="#000"/>
<rect x="240.7" y="435.9" width="5.6" height="5.6" fill="#000"/>
<rect x="299.4" y="456.8" width="5.6" height="5.6" fill="#000"/>
<rect x="322.8" y="457.4" width="5.6" height="5.6" fill="#000"/>
<rect x="352.9" y="464.2" width="5.6" height="5.6" fill="#000"/>
<polygon points="279.5,442.8 283.1,446.4 279.5,450.0 275.9,446.4" fill="#000"/>
<circle cx="127.7" cy="396.5" r="2.7" fill="#000"/>
<circle cx="153.7" cy="423.8" r="2.7" fill="#000"/>
<circle cx="201.6" cy="429.8" r="2.7" fill="#000"/>
<circle cx="225.5" cy="414.4" r="2.7" fill="#000"/>
<circle cx="255.7" cy="423.5" r="2.7" fill="#000"/>
<polygon points="98.7,462.4 102.1,468.4 95.3,468.4" fill="#000"/>
<polygon points="129.2,448.5 132.6,454.4 125.8,454.4" fill="#000"/>
<polygon points="288.6,457.4 292.0,463.4 285.2,463.4" fill="#000"/>
<line x1="75.6" y1="536.0" x2="75.6" y2="548.0" stroke="#505050" stroke-width="1.0"/>
<line x1="72.0" y1="536.0" x2="79.2" y2="536.0" stroke="#505050" stroke-width="1.0"/>
<line x1="72.0" y1="548.0" x2="79.2" y2="548.0" stroke="#505050" stroke-width="1.0"/>
<line x1="86.4" y1="549.0" x2="86.4" y2="562.0" stroke="#505050" stroke-width="1.0"/>
<line x1="82.8" y1="549.0" x2="90.0" y2="549.0" stroke="#505050" stroke-width="1.0"/>
<line x1="82.8" y1="562.0" x2="90.0" y2="562.0" stroke="#505050" stroke-width="1.0"/>
<line x1="101.4" y1="543.8" x2="101.4" y2="572.0" stroke="#505050" stroke-width="1.0"/>
<line x1="97.8" y1="543.8" x2="105.0" y2="543.8" stroke="#505050" stroke-width="1.0"/>
<line x1="97.8" y1="572.0" x2="105.0" y2="572.0" stroke="#505050" stroke-width="1.0"/>
<line x1="98.5" y1="555.0" x2="98.5" y2="566.0" stroke="#505050" stroke-width="1.0"/>
<line x1="94.9" y1="555.0" x2="102.1" y2="555.0" stroke="#505050" stroke-width="1.0"/>
<line x1="94.9" y1="566.0" x2="102.1" y2="566.0" stroke="#505050" stroke-width="1.0"/>
<line x1="127.5" y1="553.0" x2="127.5" y2="563.0" stroke="#505050" stroke-width="1.0"/>
<line x1="123.9" y1="553.0" x2="131.1" y2="553.0" stroke="#505050" stroke-width="1.0"/>
<line x1="123.9" y1="563.0" x2="131.1" y2="563.0" stroke="#505050" stroke-width="1.0"/>
<line x1="135.2" y1="546.0" x2="135.2" y2="560.0" stroke="#505050" stroke-width="1.0"/>
<line x1="131.6" y1="546.0" x2="138.8" y2="546.0" stroke="#505050" stroke-width="1.0"/>
<line x1="131.6" y1="560.0" x2="138.8" y2="560.0" stroke="#505050" stroke-width="1.0"/>
<line x1="157.7" y1="552.0" x2="157.7" y2="566.0" stroke="#505050" stroke-width="1.0"/>
<line x1="154.1" y1="552.0" x2="161.3" y2="552.0" stroke="#505050" stroke-width="1.0"/>
<line x1="154.1" y1="566.0" x2="161.3" y2="566.0" stroke="#505050" stroke-width="1.0"/>
<line x1="225.4" y1="561.0" x2="225.4" y2="571.0" stroke="#505050" stroke-width="1.0"/>
<line x1="221.8" y1="561.0" x2="229.0" y2="561.0" stroke="#505050" stroke-width="1.0"/>
<line x1="221.8" y1="571.0" x2="229.0" y2="571.0" stroke="#505050" stroke-width="1.0"/>
<line x1="284.0" y1="569.0" x2="284.0" y2="579.0" stroke="#505050" stroke-width="1.0"/>
<line x1="280.4" y1="569.0" x2="287.6" y2="569.0" stroke="#505050" stroke-width="1.0"/>
<line x1="280.4" y1="579.0" x2="287.6" y2="579.0" stroke="#505050" stroke-width="1.0"/>
<line x1="326.5" y1="571.0" x2="326.5" y2="583.0" stroke="#505050" stroke-width="1.0"/>
<line x1="322.9" y1="571.0" x2="330.1" y2="571.0" stroke="#505050" stroke-width="1.0"/>
<line x1="322.9" y1="583.0" x2="330.1" y2="583.0" stroke="#505050" stroke-width="1.0"/>
<line x1="429.0" y1="571.0" x2="429.0" y2="584.0" stroke="#505050" stroke-width="1.0"/>
<line x1="425.4" y1="571.0" x2="432.6" y2="571.0" stroke="#505050" stroke-width="1.0"/>
<line x1="425.4" y1="584.0" x2="432.6" y2="584.0" stroke="#505050" stroke-width="1.0"/>
<line x1="59.2" y1="582.0" x2="59.2" y2="598.0" stroke="#505050" stroke-width="1.0"/>
<line x1="55.6" y1="582.0" x2="62.8" y2="582.0" stroke="#505050" stroke-width="1.0"/>
<line x1="55.6" y1="598.0" x2="62.8" y2="598.0" stroke="#505050" stroke-width="1.0"/>
<line x1="63.8" y1="582.0" x2="63.8" y2="600.0" stroke="#505050" stroke-width="1.0"/>
<line x1="60.2" y1="582.0" x2="67.4" y2="582.0" stroke="#505050" stroke-width="1.0"/>
<line x1="60.2" y1="600.0" x2="67.4" y2="600.0" stroke="#505050" stroke-width="1.0"/>
<line x1="68.1" y1="564.0" x2="68.1" y2="576.0" stroke="#505050" stroke-width="1.0"/>
<line x1="64.5" y1="564.0" x2="71.7" y2="564.0" stroke="#505050" stroke-width="1.0"/>
<line x1="64.5" y1="576.0" x2="71.7" y2="576.0" stroke="#505050" stroke-width="1.0"/>
<line x1="86.0" y1="607.9" x2="86.0" y2="631.9" stroke="#505050" stroke-width="1.0"/>
<line x1="82.4" y1="607.9" x2="89.6" y2="607.9" stroke="#505050" stroke-width="1.0"/>
<line x1="82.4" y1="631.9" x2="89.6" y2="631.9" stroke="#505050" stroke-width="1.0"/>
<line x1="96.7" y1="593.5" x2="96.7" y2="616.5" stroke="#505050" stroke-width="1.0"/>
<line x1="93.1" y1="593.5" x2="100.3" y2="593.5" stroke="#505050" stroke-width="1.0"/>
<line x1="93.1" y1="616.5" x2="100.3" y2="616.5" stroke="#505050" stroke-width="1.0"/>
<line x1="101.5" y1="596.0" x2="101.5" y2="616.0" stroke="#505050" stroke-width="1.0"/>
<line x1="97.9" y1="596.0" x2="105.1" y2="596.0" stroke="#505050" stroke-width="1.0"/>
<line x1="97.9" y1="616.0" x2="105.1" y2="616.0" stroke="#505050" stroke-width="1.0"/>
<line x1="107.3" y1="609.0" x2="107.3" y2="625.2" stroke="#505050" stroke-width="1.0"/>
<line x1="103.7" y1="609.0" x2="110.9" y2="609.0" stroke="#505050" stroke-width="1.0"/>
<line x1="103.7" y1="625.2" x2="110.9" y2="625.2" stroke="#505050" stroke-width="1.0"/>
<line x1="117.7" y1="629.6" x2="117.7" y2="645.0" stroke="#505050" stroke-width="1.0"/>
<line x1="114.1" y1="629.6" x2="121.3" y2="629.6" stroke="#505050" stroke-width="1.0"/>
<line x1="114.1" y1="645.0" x2="121.3" y2="645.0" stroke="#505050" stroke-width="1.0"/>
<line x1="128.7" y1="612.0" x2="128.7" y2="657.0" stroke="#505050" stroke-width="1.0"/>
<line x1="125.1" y1="612.0" x2="132.3" y2="612.0" stroke="#505050" stroke-width="1.0"/>
<line x1="125.1" y1="657.0" x2="132.3" y2="657.0" stroke="#505050" stroke-width="1.0"/>
<line x1="134.6" y1="617.5" x2="134.6" y2="656.5" stroke="#505050" stroke-width="1.0"/>
<line x1="131.0" y1="617.5" x2="138.2" y2="617.5" stroke="#505050" stroke-width="1.0"/>
<line x1="131.0" y1="656.5" x2="138.2" y2="656.5" stroke="#505050" stroke-width="1.0"/>
<line x1="139.2" y1="656.5" x2="139.2" y2="681.2" stroke="#505050" stroke-width="1.0"/>
<line x1="135.6" y1="656.5" x2="142.8" y2="656.5" stroke="#505050" stroke-width="1.0"/>
<line x1="135.6" y1="681.2" x2="142.8" y2="681.2" stroke="#505050" stroke-width="1.0"/>
<line x1="157.5" y1="624.2" x2="157.5" y2="661.3" stroke="#505050" stroke-width="1.0"/>
<line x1="153.9" y1="624.2" x2="161.1" y2="624.2" stroke="#505050" stroke-width="1.0"/>
<line x1="153.9" y1="661.3" x2="161.1" y2="661.3" stroke="#505050" stroke-width="1.0"/>
<line x1="153.3" y1="642.0" x2="153.3" y2="656.5" stroke="#505050" stroke-width="1.0"/>
<line x1="149.7" y1="642.0" x2="156.9" y2="642.0" stroke="#505050" stroke-width="1.0"/>
<line x1="149.7" y1="656.5" x2="156.9" y2="656.5" stroke="#505050" stroke-width="1.0"/>
<line x1="166.2" y1="656.5" x2="166.2" y2="663.8" stroke="#505050" stroke-width="1.0"/>
<line x1="162.6" y1="656.5" x2="169.8" y2="656.5" stroke="#505050" stroke-width="1.0"/>
<line x1="162.6" y1="663.8" x2="169.8" y2="663.8" stroke="#505050" stroke-width="1.0"/>
<line x1="188.8" y1="653.7" x2="188.8" y2="668.0" stroke="#505050" stroke-width="1.0"/>
<line x1="185.2" y1="653.7" x2="192.4" y2="653.7" stroke="#505050" stroke-width="1.0"/>
<line x1="185.2" y1="668.0" x2="192.4" y2="668.0" stroke="#505050" stroke-width="1.0"/>
<line x1="196.5" y1="633.0" x2="196.5" y2="690.2" stroke="#505050" stroke-width="1.0"/>
<line x1="192.9" y1="633.0" x2="200.1" y2="633.0" stroke="#505050" stroke-width="1.0"/>
<line x1="192.9" y1="690.2" x2="200.1" y2="690.2" stroke="#505050" stroke-width="1.0"/>
<line x1="201.3" y1="657.5" x2="201.3" y2="673.8" stroke="#505050" stroke-width="1.0"/>
<line x1="197.7" y1="657.5" x2="204.9" y2="657.5" stroke="#505050" stroke-width="1.0"/>
<line x1="197.7" y1="673.8" x2="204.9" y2="673.8" stroke="#505050" stroke-width="1.0"/>
<line x1="225.4" y1="657.3" x2="225.4" y2="694.4" stroke="#505050" stroke-width="1.0"/>
<line x1="221.8" y1="657.3" x2="229.0" y2="657.3" stroke="#505050" stroke-width="1.0"/>
<line x1="221.8" y1="694.4" x2="229.0" y2="694.4" stroke="#505050" stroke-width="1.0"/>
<line x1="228.5" y1="662.7" x2="228.5" y2="687.3" stroke="#505050" stroke-width="1.0"/>
<line x1="224.9" y1="662.7" x2="232.1" y2="662.7" stroke="#505050" stroke-width="1.0"/>
<line x1="224.9" y1="687.3" x2="232.1" y2="687.3" stroke="#505050" stroke-width="1.0"/>
<line x1="243.8" y1="643.0" x2="243.8" y2="691.9" stroke="#505050" stroke-width="1.0"/>
<line x1="240.2" y1="643.0" x2="247.4" y2="643.0" stroke="#505050" stroke-width="1.0"/>
<line x1="240.2" y1="691.9" x2="247.4" y2="691.9" stroke="#505050" stroke-width="1.0"/>
<line x1="255.8" y1="674.6" x2="255.8" y2="693.8" stroke="#505050" stroke-width="1.0"/>
<line x1="252.2" y1="674.6" x2="259.4" y2="674.6" stroke="#505050" stroke-width="1.0"/>
<line x1="252.2" y1="693.8" x2="259.4" y2="693.8" stroke="#505050" stroke-width="1.0"/>
<line x1="279.6" y1="676.2" x2="279.6" y2="693.0" stroke="#505050" stroke-width="1.0"/>
<line x1="276.0" y1="676.2" x2="283.2" y2="676.2" stroke="#505050" stroke-width="1.0"/>
<line x1="276.0" y1="693.0" x2="283.2" y2="693.0" stroke="#505050" stroke-width="1.0"/>
<line x1="286.0" y1="672.0" x2="286.0" y2="716.0" stroke="#505050" stroke-width="1.0"/>
<line x1="282.4" y1="672.0" x2="289.6" y2="672.0" stroke="#505050" stroke-width="1.0"/>
<line x1="282.4" y1="716.0" x2="289.6" y2="716.0" stroke="#505050" stroke-width="1.0"/>
<line x1="288.7" y1="647.7" x2="288.7" y2="687.0" stroke="#505050" stroke-width="1.0"/>
<line x1="285.1" y1="647.7" x2="292.3" y2="647.7" stroke="#505050" stroke-width="1.0"/>
<line x1="285.1" y1="687.0" x2="292.3" y2="687.0" stroke="#505050" stroke-width="1.0"/>
<line x1="302.3" y1="670.8" x2="302.3" y2="699.6" stroke="#505050" stroke-width="1.0"/>
<line x1="298.7" y1="670.8" x2="305.9" y2="670.8" stroke="#505050" stroke-width="1.0"/>
<line x1="298.7" y1="699.6" x2="305.9" y2="699.6" stroke="#505050" stroke-width="1.0"/>
<line x1="326.2" y1="685.2" x2="326.2" y2="699.6" stroke="#505050" stroke-width="1.0"/>
<line x1="322.6" y1="685.2" x2="329.8" y2="685.2" stroke="#505050" stroke-width="1.0"/>
<line x1="322.6" y1="699.6" x2="329.8" y2="699.6" stroke="#505050" stroke-width="1.0"/>
<line x1="325.2" y1="694.0" x2="325.2" y2="723.0" stroke="#505050" stroke-width="1.0"/>
<line x1="321.6" y1="694.0" x2="328.8" y2="694.0" stroke="#505050" stroke-width="1.0"/>
<line x1="321.6" y1="723.0" x2="328.8" y2="723.0" stroke="#505050" stroke-width="1.0"/>
<line x1="356.6" y1="693.0" x2="356.6" y2="721.2" stroke="#505050" stroke-width="1.0"/>
<line x1="353.0" y1="693.0" x2="360.2" y2="693.0" stroke="#505050" stroke-width="1.0"/>
<line x1="353.0" y1="721.2" x2="360.2" y2="721.2" stroke="#505050" stroke-width="1.0"/>
<line x1="86.4" y1="566.0" x2="86.4" y2="580.0" stroke="#505050" stroke-width="1.0"/>
<line x1="82.8" y1="566.0" x2="90.0" y2="566.0" stroke="#505050" stroke-width="1.0"/>
<line x1="82.8" y1="580.0" x2="90.0" y2="580.0" stroke="#505050" stroke-width="1.0"/>
<polyline points="58.9,588.2 63.5,588.2 68.1,570.4 74.5,552.0 101.4,558.3 127.5,558.3 225.4,566.0 256.0,558.5 328.5,576.0 479.0,583.5" fill="none" stroke="#000" stroke-width="1.2" stroke-linejoin="round" stroke-dasharray="2.5,1.8"/>
<polyline points="75.6,542.5 86.4,555.4 101.4,558.3 135.2,553.1 157.7,559.2 225.6,568.3 284.0,575.0 326.5,577.5 429.0,577.5" fill="none" stroke="#000" stroke-width="1.2" stroke-linejoin="round" stroke-dasharray="2.5,1.8"/>
<polyline points="74.1,551.9 97.9,560.2 132.5,551.5 225.6,565.6 284.0,573.2 326.5,576.5" fill="none" stroke="#000" stroke-width="1.2" stroke-linejoin="round" stroke-dasharray="2.5,1.8"/>
<polyline points="58.9,593.2 64.1,583.1 68.1,580.2 99.0,608.8 127.3,642.7 153.3,649.8 201.3,665.6 225.4,678.1 255.8,684.2 279.6,684.6 325.2,706.3 356.5,706.9" fill="none" stroke="#000" stroke-width="1.3" stroke-linejoin="round"/>
<polyline points="356.5,706.9 479.0,702.2" fill="none" stroke="#000" stroke-width="1.0" stroke-linejoin="round"/>
<polyline points="63.5,586.0 75.4,557.5 86.0,620.0 96.7,603.1 101.5,603.1 134.6,637.7 157.5,642.7 196.5,661.3 243.8,667.5 302.3,685.2 326.2,691.9 356.5,706.9" fill="none" stroke="#000" stroke-width="1.3" stroke-linejoin="round"/>
<polyline points="64.0,586.0 74.8,564.6 101.0,603.0 128.7,630.0 288.7,667.5" fill="none" stroke="#000" stroke-width="1.1" stroke-linejoin="round"/>
<polyline points="68.0,578.0 75.0,560.0 86.4,573.3 107.3,615.6 117.7,637.5 128.8,647.6 139.2,669.0 166.2,660.0 188.8,660.4 228.5,671.9 286.0,696.2 325.2,706.3" fill="none" stroke="#000" stroke-width="1.3" stroke-linejoin="round"/>
<circle cx="58.9" cy="588.2" r="2.1" fill="#fff" stroke="#000" stroke-width="1.4"/>
<circle cx="63.5" cy="588.2" r="2.1" fill="#fff" stroke="#000" stroke-width="1.4"/>
<circle cx="68.1" cy="570.4" r="2.1" fill="#fff" stroke="#000" stroke-width="1.4"/>
<circle cx="127.5" cy="558.3" r="2.1" fill="#fff" stroke="#000" stroke-width="1.4"/>
<circle cx="225.4" cy="566.0" r="2.1" fill="#fff" stroke="#000" stroke-width="1.4"/>
<circle cx="256.0" cy="558.5" r="2.1" fill="#fff" stroke="#000" stroke-width="1.4"/>
<circle cx="328.5" cy="576.0" r="2.1" fill="#fff" stroke="#000" stroke-width="1.4"/>
<circle cx="479.0" cy="583.5" r="2.1" fill="#fff" stroke="#000" stroke-width="1.4"/>
<rect x="73.5" y="540.5" width="4.1" height="4.1" fill="#fff" stroke="#000" stroke-width="1.4"/>
<rect x="84.4" y="553.4" width="4.1" height="4.1" fill="#fff" stroke="#000" stroke-width="1.4"/>
<rect x="99.4" y="556.2" width="4.1" height="4.1" fill="#fff" stroke="#000" stroke-width="1.4"/>
<rect x="133.1" y="551.1" width="4.1" height="4.1" fill="#fff" stroke="#000" stroke-width="1.4"/>
<rect x="155.6" y="557.2" width="4.1" height="4.1" fill="#fff" stroke="#000" stroke-width="1.4"/>
<rect x="324.4" y="575.5" width="4.1" height="4.1" fill="#fff" stroke="#000" stroke-width="1.4"/>
<rect x="426.9" y="575.5" width="4.1" height="4.1" fill="#fff" stroke="#000" stroke-width="1.4"/>
<polygon points="74.1,549.5 76.5,553.7 71.7,553.7" fill="#fff" stroke="#000" stroke-width="1.3"/>
<polygon points="97.9,557.8 100.3,562.0 95.5,562.0" fill="#fff" stroke="#000" stroke-width="1.3"/>
<polygon points="132.5,549.1 134.9,553.3 130.1,553.3" fill="#fff" stroke="#000" stroke-width="1.3"/>
<polygon points="284.0,571.6 286.4,575.8 281.6,575.8" fill="#fff" stroke="#000" stroke-width="1.3"/>
<circle cx="58.9" cy="593.2" r="2.7" fill="#000"/>
<circle cx="64.1" cy="583.1" r="2.7" fill="#000"/>
<circle cx="86.4" cy="573.3" r="2.7" fill="#000"/>
<circle cx="99.0" cy="608.8" r="2.7" fill="#000"/>
<circle cx="107.3" cy="615.6" r="2.7" fill="#000"/>
<circle cx="117.7" cy="637.5" r="2.7" fill="#000"/>
<circle cx="127.3" cy="642.7" r="2.7" fill="#000"/>
<circle cx="128.8" cy="647.6" r="2.7" fill="#000"/>
<circle cx="139.2" cy="669.0" r="2.7" fill="#000"/>
<circle cx="166.2" cy="660.0" r="2.7" fill="#000"/>
<circle cx="188.8" cy="660.4" r="2.7" fill="#000"/>
<circle cx="201.3" cy="665.6" r="2.7" fill="#000"/>
<circle cx="228.5" cy="671.9" r="2.7" fill="#000"/>
<circle cx="286.0" cy="696.2" r="2.7" fill="#000"/>
<rect x="72.6" y="554.7" width="5.6" height="5.6" fill="#000"/>
<rect x="83.2" y="617.2" width="5.6" height="5.6" fill="#000"/>
<rect x="93.9" y="600.3" width="5.6" height="5.6" fill="#000"/>
<rect x="98.7" y="600.3" width="5.6" height="5.6" fill="#000"/>
<rect x="131.8" y="634.9" width="5.6" height="5.6" fill="#000"/>
<rect x="154.7" y="639.9" width="5.6" height="5.6" fill="#000"/>
<rect x="193.7" y="658.5" width="5.6" height="5.6" fill="#000"/>
<rect x="241.0" y="664.7" width="5.6" height="5.6" fill="#000"/>
<rect x="299.5" y="682.4" width="5.6" height="5.6" fill="#000"/>
<rect x="323.4" y="689.1" width="5.6" height="5.6" fill="#000"/>
<rect x="353.7" y="704.1" width="5.6" height="5.6" fill="#000"/>
<polygon points="68.1,576.6 71.7,580.2 68.1,583.8 64.5,580.2" fill="#000"/>
<polygon points="153.3,646.2 156.9,649.8 153.3,653.4 149.7,649.8" fill="#000"/>
<polygon points="225.4,674.5 229.0,678.1 225.4,681.7 221.8,678.1" fill="#000"/>
<polygon points="255.8,680.6 259.4,684.2 255.8,687.8 252.2,684.2" fill="#000"/>
<polygon points="279.6,681.0 283.2,684.6 279.6,688.2 276.0,684.6" fill="#000"/>
<polygon points="325.2,702.7 328.8,706.3 325.2,709.9 321.6,706.3" fill="#000"/>
<polygon points="479.0,698.6 482.6,702.2 479.0,705.8 475.4,702.2" fill="#000"/>
<polygon points="74.8,561.2 78.2,567.1 71.4,567.1" fill="#000"/>
<polygon points="128.7,626.6 132.1,632.5 125.3,632.5" fill="#000"/>
<polygon points="288.7,664.1 292.1,670.0 285.3,670.0" fill="#000"/>
</svg></body></html>
